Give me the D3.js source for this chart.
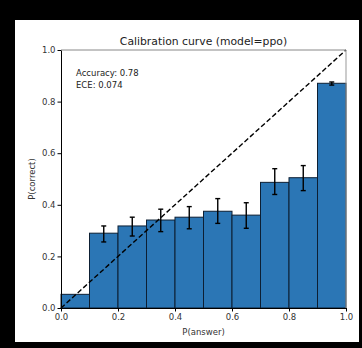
<!DOCTYPE html>
<html><head><meta charset="utf-8">
<script src="https://cdn.jsdelivr.net/npm/d3@7"></script>
<style>html,body{margin:0;padding:0;background:#000;}svg{display:block;}</style>
</head><body>
<svg id="c" width="362" height="348"></svg>
<script>
const binStarts = [0.0, 0.1, 0.2, 0.3, 0.4, 0.5, 0.6, 0.7, 0.8, 0.9];
const accuracy = [0.053, 0.29, 0.318, 0.341, 0.352, 0.375, 0.36, 0.487, 0.505, 0.871];
const errLow = [null, 0.256, 0.279, 0.296, 0.307, 0.328, 0.309, 0.44, 0.455, 0.864];
const errHigh = [null, 0.318, 0.352, 0.383, 0.393, 0.424, 0.408, 0.54, 0.552, 0.876];
const tickValues = [0, 0.2, 0.4, 0.6, 0.8, 1.0];
const title = "Calibration curve (model=ppo)";
const notes = ["Accuracy: 0.78", "ECE: 0.074"];

const svg = d3.select("#c");
const font = "'DejaVu Sans', sans-serif";
svg.append("rect").attr("x",0).attr("y",0).attr("width",362).attr("height",348).attr("fill","#000");
svg.append("rect").attr("x",15).attr("y",20).attr("width",344).attr("height",322).attr("fill","#fff");

const L=61, R=346, T=50, B=308;
const x = d3.scaleLinear().domain([0,1]).range([L,R]);
const y = d3.scaleLinear().domain([0,1]).range([B,T]);

// bars
svg.append("g").selectAll("rect").data(binStarts).join("rect")
  .attr("x", d=>x(d)).attr("width", d=>x(d+0.1)-x(d))
  .attr("y", (d,i)=>y(accuracy[i])).attr("height",(d,i)=>y(0)-y(accuracy[i]))
  .attr("fill","#2b76b5").attr("stroke","#0d1f33").attr("stroke-width",1);

// error bars
const eg = svg.append("g").attr("stroke","#000").attr("stroke-width",1.4);
binStarts.forEach((d,i)=>{
  if(errLow[i]==null) return;
  const cx = x(d+0.05);
  eg.append("line").attr("x1",cx).attr("x2",cx).attr("y1",y(errLow[i])).attr("y2",y(errHigh[i]));
  eg.append("line").attr("x1",cx-2.5).attr("x2",cx+2.5).attr("y1",y(errLow[i])).attr("y2",y(errLow[i]));
  eg.append("line").attr("x1",cx-2.5).attr("x2",cx+2.5).attr("y1",y(errHigh[i])).attr("y2",y(errHigh[i]));
});

// diagonal
svg.append("line").attr("x1",x(0)).attr("y1",y(0)).attr("x2",x(1)).attr("y2",y(1))
  .attr("stroke","#000").attr("stroke-width",1.4).attr("stroke-dasharray","5,2.5");

// spines
svg.append("line").attr("x1",L).attr("x2",R).attr("y1",T).attr("y2",T).attr("stroke","#888").attr("stroke-width",1);
svg.append("line").attr("x1",R).attr("x2",R).attr("y1",T).attr("y2",B).attr("stroke","#999").attr("stroke-width",1);

// axes
const xa = svg.append("g").attr("transform",`translate(0,${B})`)
  .call(d3.axisBottom(x).tickValues(tickValues).tickFormat(d3.format(".1f")).tickSizeInner(3.5).tickSizeOuter(0).tickPadding(2));
const ya = svg.append("g").attr("transform",`translate(${L},0)`)
  .call(d3.axisLeft(y).tickValues(tickValues).tickFormat(d3.format(".1f")).tickSizeInner(3.5).tickSizeOuter(0).tickPadding(2));
[xa,ya].forEach(a=>{
  a.selectAll("path").attr("stroke","#000").attr("stroke-width",1);
  a.selectAll("line").attr("stroke","#000");
  a.selectAll("text").attr("font-family",font).attr("font-size",8.5).attr("fill","#333");
});

svg.append("text").attr("x",(L+R)/2).attr("y",45).attr("text-anchor","middle")
  .attr("font-family",font).attr("font-size",10.8).attr("fill","#222").text(title);
svg.append("text").attr("x",(L+R)/2).attr("y",335).attr("text-anchor","middle")
  .attr("font-family",font).attr("font-size",8.5).attr("fill","#333").text("P(answer)");
svg.append("text").attr("transform",`translate(35,${(T+B)/2}) rotate(-90)`).attr("text-anchor","middle")
  .attr("font-family",font).attr("font-size",8.5).attr("fill","#333").text("P(correct)");
notes.forEach((n,i)=>{
  svg.append("text").attr("x",76).attr("y",76+i*12).attr("font-family",font).attr("font-size",8.5)
    .attr("fill","#222").text(n);
});
</script>
</body></html>
